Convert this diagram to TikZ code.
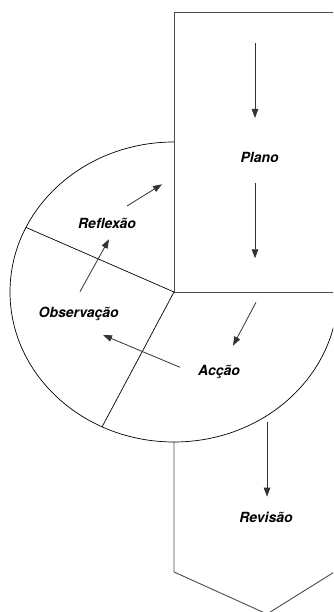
\documentclass[tikz,border=0pt]{standalone}
\usepackage{fontspec}
\setmainfont{TeX Gyre Heros}
\usepackage{tikz}
\usetikzlibrary{arrows.meta, positioning, calc}

\begin{document}
\begin{tikzpicture}[x=1pt, y=1pt,
	frame/.style={draw=black!70, line width=0.9pt},
	cycle/.style={draw=black, line width=0.7pt},
	flow/.style={draw=black!80, line width=0.8pt, -{Triangle[length=9pt, width=6.5pt]}},
	phase/.style={font=\fontsize{14}{16}\selectfont\bfseries\itshape, anchor=base, inner sep=0pt}]
	\useasboundingbox (0,0) rectangle (333,612);
	\clip (0,0) rectangle (333,612);
	
	\coordinate (o) at (174,320);
	\draw[frame] (345,600) -- (174,600) -- (o) -- (345,320);
	\draw[frame] (174,170) -- (174,40) -- (267,-2) -- (360,56);
	\draw[cycle] (174,470) arc[start angle=90, end angle=360, x radius=164, y radius=150];
	\draw[cycle] (o) -- ($(o)+(154.5:164 and 150)$);
	\draw[cycle] (o) -- ($(o)+(244:164 and 150)$);
	
	\node[phase] (plano) at (259.7,449.7) {Plano};
	\node[phase] (reflexao) at (107,383.7) {Reflexão};
	\node[phase] (observacao) at (78.7,294.7) {Observação};
	\node[phase] (accao) at (219,236) {Acção};
	\node[phase] (revisao) at (266,89.3) {Revisão};
	
	\coordinate (p1a) at (255,569);   \coordinate (p1b) at (255,494);
	\coordinate (p2a) at (255,428.7); \coordinate (p2b) at (255,353.7);
	\coordinate (paa) at (256,309.7); \coordinate (pab) at (233,266.3);
	\coordinate (aoa) at (180,244.7); \coordinate (aob) at (103,277);
	\coordinate (ora) at (80,320.3);  \coordinate (orb) at (109,372.7);
	\coordinate (rpa) at (127,406);   \coordinate (rpb) at (162,427.7);
	\coordinate (rva) at (267,190.3); \coordinate (rvb) at (267,115.3);
	
	\draw[flow] (p1a) -- (p1b);
	\draw[flow] (p2a) -- (p2b);
	\draw[flow] (paa) -- (pab);
	\draw[flow] (aoa) -- (aob);
	\draw[flow] (ora) -- (orb);
	\draw[flow] (rpa) -- (rpb);
	\draw[flow] (rva) -- (rvb);
	
\end{tikzpicture}
\end{document}
